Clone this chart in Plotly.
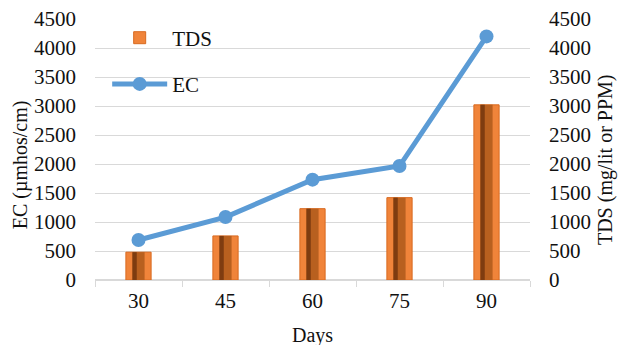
import plotly.graph_objects as go

days = ["30", "45", "60", "75", "90"]
tds = [480, 760, 1230, 1420, 3020]
ec = [690, 1085, 1730, 1965, 4200]
y_ticks = [0, 500, 1000, 1500, 2000, 2500, 3000, 3500, 4000, 4500]

FONT = "Liberation Serif, Times New Roman, serif"
grid = "#D9D9D9"
txt = "#111111"

fig = go.Figure()
# TDS bars on the primary (right-side) axis so the EC line draws on top
fig.add_trace(go.Bar(
    x=days, y=tds, name="TDS", yaxis="y", width=0.29,
    marker=dict(color="#F0843A", line=dict(color="#D86A20", width=1)),
    legend="legend",
))
fig.add_trace(go.Bar(
    x=days, y=tds, name="TDS groove", yaxis="y", width=0.14,
    marker=dict(color="#B8601F", line=dict(width=0)),
    showlegend=False, hoverinfo="skip",
))
fig.add_trace(go.Bar(
    x=days, y=tds, name="TDS shade", yaxis="y", width=0.05, offset=-0.07,
    marker=dict(color="#7E3C10", line=dict(width=0)),
    showlegend=False, hoverinfo="skip",
))
fig.add_trace(go.Scatter(
    x=days, y=ec, name="EC", yaxis="y2", mode="lines+markers",
    line=dict(color="#5B9BD5", width=5),
    marker=dict(color="#5B9BD5", size=14),
    legend="legend2",
))

fig.update_layout(
    width=620, height=345,
    margin=dict(l=95, r=90, t=19, b=65),
    paper_bgcolor="white", plot_bgcolor="white",
    barmode="overlay",
    font=dict(family=FONT, size=21, color=txt),
    xaxis=dict(
        type="category", showgrid=False, automargin=False,
        showline=True, linecolor=grid, linewidth=1,
        ticks="outside", tickson="boundaries", ticklen=6, tickcolor=grid,
        tickfont=dict(size=21), ticklabelstandoff=2,
    ),
    yaxis=dict(
        side="right", range=[0, 4500], tickvals=y_ticks, automargin=False,
        showgrid=True, gridcolor=grid, gridwidth=1,
        zeroline=True, zerolinecolor=grid,
        showline=False, ticklabelstandoff=18,
        tickfont=dict(size=21),
    ),
    yaxis2=dict(
        side="left", overlaying="y", range=[0, 4500], tickvals=y_ticks,
        automargin=False,
        showgrid=False, zeroline=False, showline=False,
        ticklabelstandoff=18,
        tickfont=dict(size=21),
    ),
    legend=dict(x=0.028, y=0.927, xanchor="left", yanchor="middle",
                bgcolor="rgba(0,0,0,0)", font=dict(size=21), itemwidth=55),
    legend2=dict(x=0.028, y=0.750, xanchor="left", yanchor="middle",
                 bgcolor="rgba(0,0,0,0)", font=dict(size=21), itemwidth=55),
    annotations=[
        dict(text="EC (µmhos/cm)", xref="paper", yref="paper",
             x=-0.172, y=0.44, xanchor="center", yanchor="middle",
             textangle=-90, showarrow=False, font=dict(size=20, color=txt)),
        dict(text="TDS (mg/lit or PPM)", xref="paper", yref="paper",
             x=1.175, y=0.46, xanchor="center", yanchor="middle",
             textangle=-90, showarrow=False, font=dict(size=20, color=txt)),
        dict(text="Days", xref="paper", yref="paper",
             x=0.5, y=-0.211, xanchor="center", yanchor="middle",
             showarrow=False, font=dict(size=20, color=txt)),
    ],
)

fig.write_html(
    "out.html",
    config={"displayModeBar": False},
    post_script="document.body.style.margin='0';document.body.style.overflow='hidden';",
)
